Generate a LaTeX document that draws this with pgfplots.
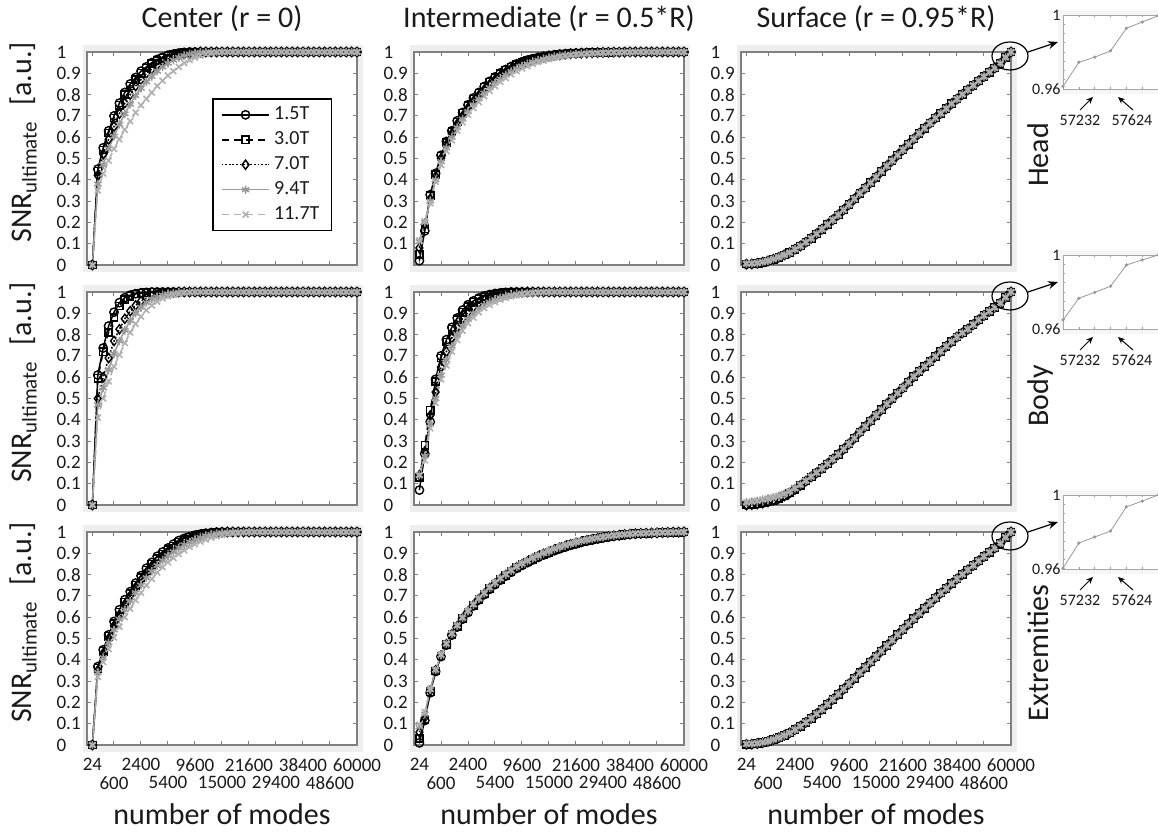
\documentclass[border=0pt]{standalone}
\usepackage{fontspec}
\setmainfont{Carlito}
\usepackage{pgfplots}
\pgfplotsset{compat=1.18}
\usepackage{pgfplotstable}
\usetikzlibrary{arrows.meta}
\definecolor{frame}{HTML}{EEEEEE}
\definecolor{g94}{HTML}{999999}
\definecolor{g117}{HTML}{B0B0B0}
\definecolor{axgray}{HTML}{808080}
\definecolor{txt}{HTML}{1A1A1A}

\pgfplotsset{
  panel/.style={
    scale only axis, width=135pt, height=106.5pt,
    xmin=0, xmax=50, ymin=0, ymax=1,
    xtick={1,5,10,15,20,25,30,35,40,45,50}, xticklabels={},
    ytick={0,0.1,0.2,0.3,0.4,0.5,0.6,0.7,0.8,0.9,1},
    tick align=inside, major tick length=2pt,
    tick style={axgray, line width=0.5pt},
    axis line style={axgray, line width=0.7pt},
    axis background/.style={fill=white},
    clip=false,
    /pgf/number format/fixed, /pgf/number format/precision=1,
    /pgf/number format/assume math mode=true,
    yticklabel style={font=\fontsize{9.5}{10}\selectfont, text=txt, text width=13pt,
      align=left, inner xsep=0pt, xshift=-2pt},
    xticklabel style={font=\fontsize{9.5}{10}\selectfont, text=txt, inner ysep=0pt, yshift=-6.5pt},
    every axis plot/.append style={line width=0.75pt},
  },
  bottomrow/.style={
    xtick={1,10,20,30,40,50}, xticklabels={24,2400,9600,21600,38400,60000},
    extra x ticks={5,15,25,35,45}, extra x tick labels={600,5400,15000,29400,48600},
    extra x tick style={xticklabel style={yshift=-9pt}},
  },
  s15/.style={black, solid, mark=o, mark size=2.1pt, mark options={solid, line width=0.7pt}},
  s30/.style={black, dash pattern=on 3.5pt off 2.5pt, mark=square, mark size=1.8pt, mark options={solid, line width=0.7pt}},
  s70/.style={black, dash pattern=on 0.9pt off 0.9pt, mark=diamond, mark size=2.3pt, mark options={solid, line width=0.7pt}},
  s94/.style={g94, solid, mark=asterisk, mark size=2.1pt, mark options={solid, line width=0.8pt}},
  s117/.style={g117, dash pattern=on 3.5pt off 2.5pt, mark=x, mark size=2.1pt, mark options={solid, line width=0.8pt}},
  inset/.style={
    scale only axis, width=51.5pt, height=37pt,
    xmin=0, xmax=6.5, ymin=0.96, ymax=1,
    xtick={0,1,2,3,4,5,6}, xticklabels={},
    ytick={0.96,0.965,0.97,0.975,0.98,0.985,0.99,0.995,1}, yticklabels={0.96,,,,,,,,1},
    tick align=inside, major tick length=1pt,
    tick style={black!40, line width=0.3pt},
    axis line style={black!35, line width=0.4pt},
    axis background/.style={fill=white},
    yticklabel style={font=\fontsize{8}{9}\selectfont, text=txt, inner xsep=1pt},
    clip=false,
  },
}

\newcommand\five[1]{%
  \addplot[s15] table[x=n,y=a]{#1};
  \addplot[s30] table[x=n,y=b]{#1};
  \addplot[s70] table[x=n,y=c]{#1};
  \addplot[s94] table[x=n,y=d]{#1};
  \addplot[s117] table[x=n,y=e]{#1};
}
\newcommand\fivesurf[1]{%
  \addplot[s15] table[x=n,y=a]{#1};
  \addplot[s30] table[x=n,y=a]{#1};
  \addplot[s70] table[x=n,y=a]{#1};
  \addplot[s94] table[x=n,y=e]{#1};
  \addplot[s117] table[x=n,y=e]{#1};
}
\newcommand\bg[2]{\fill[frame] ({#1pt-2pt},{#2pt+3.5pt}) rectangle ({#1pt+138pt},{#2pt-110pt});}

% Center, head
\pgfplotstableread{
n a b c d e
1 0 0 0 0 0
2 0.45 0.44 0.42 0.38 0.35
3 0.55 0.54 0.52 0.47 0.43
4 0.63 0.62 0.59 0.545 0.49
5 0.70 0.69 0.65 0.605 0.545
6 0.76 0.75 0.71 0.66 0.59
7 0.81 0.80 0.76 0.71 0.635
8 0.85 0.84 0.80 0.755 0.675
9 0.88 0.87 0.84 0.795 0.715
10 0.91 0.90 0.87 0.83 0.75
11 0.93 0.925 0.90 0.86 0.78
12 0.95 0.945 0.92 0.885 0.81
13 0.965 0.96 0.94 0.91 0.84
14 0.975 0.97 0.955 0.93 0.865
15 0.985 0.98 0.967 0.947 0.89
16 0.99 0.988 0.977 0.962 0.91
17 0.995 0.993 0.985 0.974 0.93
18 0.998 0.997 0.99 0.983 0.948
19 1 1 0.994 0.99 0.962
20 1 1 0.997 0.995 0.974
21 1 1 1 0.998 0.983
22 1 1 1 1 0.99
23 1 1 1 1 0.995
24 1 1 1 1 0.998
25 1 1 1 1 1
26 1 1 1 1 1
27 1 1 1 1 1
28 1 1 1 1 1
29 1 1 1 1 1
30 1 1 1 1 1
31 1 1 1 1 1
32 1 1 1 1 1
33 1 1 1 1 1
34 1 1 1 1 1
35 1 1 1 1 1
36 1 1 1 1 1
37 1 1 1 1 1
38 1 1 1 1 1
39 1 1 1 1 1
40 1 1 1 1 1
41 1 1 1 1 1
42 1 1 1 1 1
43 1 1 1 1 1
44 1 1 1 1 1
45 1 1 1 1 1
46 1 1 1 1 1
47 1 1 1 1 1
48 1 1 1 1 1
49 1 1 1 1 1
50 1 1 1 1 1
}\tCH

% Center, body
\pgfplotstableread{
n a b c d e
1 0 0 0 0 0
2 0.61 0.595 0.50 0.47 0.41
3 0.737 0.72 0.60 0.55 0.50
4 0.84 0.81 0.69 0.635 0.58
5 0.905 0.88 0.77 0.71 0.65
6 0.95 0.935 0.825 0.77 0.705
7 0.973 0.965 0.874 0.82 0.76
8 0.985 0.98 0.91 0.865 0.81
9 0.992 0.99 0.937 0.90 0.85
10 0.996 0.995 0.957 0.928 0.885
11 0.998 0.997 0.971 0.95 0.915
12 1 1 0.981 0.966 0.937
13 1 1 0.988 0.977 0.955
14 1 1 0.993 0.985 0.97
15 1 1 0.996 0.991 0.98
16 1 1 0.998 0.995 0.987
17 1 1 1 0.998 0.992
18 1 1 1 1 0.996
19 1 1 1 1 0.998
20 1 1 1 1 1
21 1 1 1 1 1
22 1 1 1 1 1
23 1 1 1 1 1
24 1 1 1 1 1
25 1 1 1 1 1
26 1 1 1 1 1
27 1 1 1 1 1
28 1 1 1 1 1
29 1 1 1 1 1
30 1 1 1 1 1
31 1 1 1 1 1
32 1 1 1 1 1
33 1 1 1 1 1
34 1 1 1 1 1
35 1 1 1 1 1
36 1 1 1 1 1
37 1 1 1 1 1
38 1 1 1 1 1
39 1 1 1 1 1
40 1 1 1 1 1
41 1 1 1 1 1
42 1 1 1 1 1
43 1 1 1 1 1
44 1 1 1 1 1
45 1 1 1 1 1
46 1 1 1 1 1
47 1 1 1 1 1
48 1 1 1 1 1
49 1 1 1 1 1
50 1 1 1 1 1
}\tCB

% Center, extremities
\pgfplotstableread{
n a b c d e
1 0 0 0 0 0
2 0.368 0.36 0.35 0.34 0.32
3 0.447 0.44 0.43 0.41 0.39
4 0.517 0.51 0.50 0.48 0.45
5 0.58 0.57 0.56 0.54 0.505
6 0.635 0.625 0.61 0.59 0.555
7 0.682 0.672 0.66 0.635 0.60
8 0.72 0.71 0.70 0.675 0.64
9 0.76 0.75 0.74 0.715 0.68
10 0.795 0.785 0.775 0.75 0.715
11 0.83 0.82 0.81 0.785 0.75
12 0.857 0.848 0.84 0.815 0.78
13 0.886 0.875 0.865 0.842 0.81
14 0.906 0.897 0.888 0.866 0.835
15 0.925 0.917 0.908 0.888 0.858
16 0.943 0.935 0.926 0.907 0.878
17 0.96 0.952 0.943 0.925 0.897
18 0.97 0.965 0.957 0.94 0.914
19 0.978 0.975 0.968 0.953 0.93
20 0.985 0.983 0.977 0.964 0.943
21 0.99 0.989 0.984 0.974 0.955
22 0.994 0.993 0.99 0.982 0.965
23 0.997 0.996 0.994 0.988 0.974
24 0.999 0.998 0.997 0.993 0.981
25 1 1 0.999 0.996 0.987
26 1 1 1 0.998 0.991
27 1 1 1 1 0.994
28 1 1 1 1 0.996
29 1 1 1 1 0.998
30 1 1 1 1 1
31 1 1 1 1 1
32 1 1 1 1 1
33 1 1 1 1 1
34 1 1 1 1 1
35 1 1 1 1 1
36 1 1 1 1 1
37 1 1 1 1 1
38 1 1 1 1 1
39 1 1 1 1 1
40 1 1 1 1 1
41 1 1 1 1 1
42 1 1 1 1 1
43 1 1 1 1 1
44 1 1 1 1 1
45 1 1 1 1 1
46 1 1 1 1 1
47 1 1 1 1 1
48 1 1 1 1 1
49 1 1 1 1 1
50 1 1 1 1 1
}\tCE

% Intermediate, head
\pgfplotstableread{
n a b c d e
1 0.02 0.05 0.08 0.11 0.115
2 0.16 0.17 0.19 0.20 0.205
3 0.33 0.325 0.31 0.30 0.29
4 0.43 0.425 0.415 0.40 0.39
5 0.515 0.51 0.50 0.485 0.47
6 0.58 0.575 0.565 0.55 0.535
7 0.63 0.627 0.617 0.60 0.585
8 0.677 0.672 0.662 0.645 0.63
9 0.716 0.712 0.70 0.685 0.67
10 0.752 0.748 0.737 0.72 0.705
11 0.784 0.78 0.769 0.752 0.737
12 0.81 0.807 0.797 0.78 0.765
13 0.838 0.834 0.824 0.807 0.792
14 0.862 0.858 0.848 0.832 0.817
15 0.883 0.879 0.87 0.854 0.84
16 0.902 0.898 0.889 0.874 0.86
17 0.918 0.914 0.906 0.892 0.878
18 0.932 0.928 0.921 0.908 0.895
19 0.944 0.94 0.934 0.922 0.91
20 0.954 0.951 0.945 0.934 0.923
21 0.962 0.959 0.954 0.944 0.934
22 0.969 0.966 0.962 0.953 0.944
23 0.975 0.972 0.968 0.961 0.953
24 0.98 0.977 0.974 0.967 0.96
25 0.984 0.981 0.979 0.973 0.967
26 0.987 0.985 0.983 0.978 0.973
27 0.99 0.988 0.986 0.982 0.978
28 0.992 0.99 0.989 0.985 0.982
29 0.994 0.992 0.991 0.988 0.985
30 0.995 0.994 0.993 0.99 0.988
31 0.996 0.995 0.994 0.992 0.99
32 0.997 0.996 0.995 0.994 0.992
33 0.997 0.997 0.996 0.995 0.994
34 0.998 0.997 0.997 0.996 0.995
35 0.998 0.998 0.998 0.997 0.996
36 0.999 0.998 0.998 0.998 0.997
37 0.999 0.999 0.999 0.998 0.998
38 0.999 0.999 0.999 0.999 0.998
39 1 0.999 0.999 0.999 0.999
40 1 1 1 0.999 0.999
41 1 1 1 1 1
42 1 1 1 1 1
43 1 1 1 1 1
44 1 1 1 1 1
45 1 1 1 1 1
46 1 1 1 1 1
47 1 1 1 1 1
48 1 1 1 1 1
49 1 1 1 1 1
50 1 1 1 1 1
}\tIH

% Intermediate, body
\pgfplotstableread{
n a b c d e
1 0.07 0.13 0.14 0.14 0.14
2 0.24 0.28 0.25 0.23 0.21
3 0.39 0.445 0.42 0.38 0.36
4 0.59 0.58 0.53 0.50 0.48
5 0.70 0.69 0.647 0.61 0.59
6 0.776 0.765 0.72 0.68 0.655
7 0.834 0.825 0.784 0.745 0.72
8 0.878 0.87 0.835 0.80 0.775
9 0.915 0.905 0.875 0.84 0.818
10 0.94 0.932 0.905 0.872 0.853
11 0.958 0.952 0.93 0.898 0.88
12 0.972 0.966 0.95 0.92 0.905
13 0.982 0.977 0.964 0.938 0.925
14 0.988 0.985 0.975 0.952 0.94
15 0.993 0.99 0.983 0.964 0.953
16 0.996 0.994 0.989 0.973 0.964
17 0.998 0.997 0.993 0.98 0.973
18 1 0.999 0.996 0.986 0.98
19 1 1 0.998 0.99 0.986
20 1 1 0.999 0.993 0.99
21 1 1 1 0.995 0.993
22 1 1 1 0.997 0.996
23 1 1 1 0.998 0.998
24 1 1 1 0.999 0.999
25 1 1 1 1 1
26 1 1 1 1 1
27 1 1 1 1 1
28 1 1 1 1 1
29 1 1 1 1 1
30 1 1 1 1 1
31 1 1 1 1 1
32 1 1 1 1 1
33 1 1 1 1 1
34 1 1 1 1 1
35 1 1 1 1 1
36 1 1 1 1 1
37 1 1 1 1 1
38 1 1 1 1 1
39 1 1 1 1 1
40 1 1 1 1 1
41 1 1 1 1 1
42 1 1 1 1 1
43 1 1 1 1 1
44 1 1 1 1 1
45 1 1 1 1 1
46 1 1 1 1 1
47 1 1 1 1 1
48 1 1 1 1 1
49 1 1 1 1 1
50 1 1 1 1 1
}\tIB

% Intermediate, extremities
\pgfplotstableread{
n a b c d e
1 0.01 0.03 0.06 0.085 0.095
2 0.115 0.12 0.13 0.145 0.155
3 0.245 0.25 0.255 0.26 0.265
4 0.345 0.347 0.35 0.352 0.355
5 0.415 0.418 0.42 0.422 0.425
6 0.469 0.471 0.473 0.475 0.477
7 0.516 0.518 0.52 0.522 0.524
8 0.554 0.556 0.558 0.56 0.562
9 0.591 0.593 0.595 0.597 0.599
10 0.622 0.624 0.626 0.628 0.63
11 0.653 0.655 0.657 0.659 0.661
12 0.681 0.683 0.685 0.687 0.689
13 0.706 0.708 0.71 0.712 0.714
14 0.731 0.734 0.736 0.738 0.741
15 0.753 0.756 0.758 0.76 0.763
16 0.774 0.777 0.779 0.781 0.784
17 0.793 0.796 0.798 0.8 0.803
18 0.811 0.814 0.816 0.818 0.821
19 0.829 0.832 0.834 0.836 0.839
20 0.843 0.846 0.848 0.85 0.853
21 0.856 0.859 0.861 0.863 0.866
22 0.869 0.872 0.874 0.876 0.879
23 0.881 0.884 0.886 0.888 0.891
24 0.892 0.895 0.897 0.899 0.902
25 0.902 0.905 0.907 0.909 0.912
26 0.912 0.915 0.917 0.919 0.922
27 0.921 0.924 0.926 0.928 0.931
28 0.929 0.932 0.934 0.936 0.939
29 0.937 0.94 0.942 0.944 0.946
30 0.944 0.947 0.949 0.951 0.953
31 0.951 0.953 0.955 0.957 0.959
32 0.957 0.959 0.961 0.963 0.964
33 0.962 0.964 0.966 0.968 0.969
34 0.967 0.969 0.971 0.972 0.973
35 0.972 0.974 0.975 0.976 0.977
36 0.976 0.978 0.979 0.98 0.981
37 0.98 0.981 0.982 0.983 0.984
38 0.983 0.984 0.985 0.986 0.987
39 0.986 0.987 0.988 0.989 0.989
40 0.989 0.99 0.99 0.991 0.991
41 0.991 0.992 0.992 0.993 0.993
42 0.993 0.993 0.993 0.994 0.994
43 0.994 0.994 0.994 0.995 0.995
44 0.995 0.995 0.995 0.996 0.996
45 0.996 0.996 0.996 0.997 0.997
46 0.997 0.997 0.997 0.998 0.998
47 0.998 0.998 0.998 0.998 0.998
48 0.999 0.999 0.999 0.999 0.999
49 0.999 0.999 0.999 0.999 0.999
50 1 1 1 1 1
}\tIE

% Surface, head (a: 1.5/3.0/7.0 T, e: 9.4/11.7 T)
\pgfplotstableread{
n a e
1 0.004 0.006
2 0.005 0.007
3 0.008 0.009
4 0.013 0.014
5 0.019 0.02
6 0.027 0.028
7 0.036 0.037
8 0.047 0.047
9 0.058 0.058
10 0.074 0.074
11 0.089 0.089
12 0.107 0.107
13 0.125 0.125
14 0.146 0.146
15 0.168 0.168
16 0.19 0.19
17 0.212 0.212
18 0.235 0.235
19 0.259 0.259
20 0.284 0.284
21 0.31 0.31
22 0.336 0.336
23 0.361 0.361
24 0.387 0.387
25 0.412 0.412
26 0.439 0.439
27 0.465 0.465
28 0.49 0.49
29 0.516 0.516
30 0.541 0.541
31 0.567 0.567
32 0.592 0.592
33 0.618 0.618
34 0.642 0.642
35 0.666 0.666
36 0.69 0.69
37 0.712 0.712
38 0.734 0.734
39 0.757 0.757
40 0.779 0.779
41 0.801 0.801
42 0.822 0.822
43 0.843 0.843
44 0.864 0.864
45 0.885 0.885
46 0.905 0.905
47 0.925 0.925
48 0.946 0.946
49 0.975 0.975
50 1 1
}\tSH

% Surface, body
\pgfplotstableread{
n a e
1 0.0 0.012
2 0.002 0.016
3 0.005 0.02
4 0.009 0.025
5 0.015 0.03
6 0.022 0.036
7 0.031 0.043
8 0.042 0.052
9 0.056 0.064
10 0.073 0.079
11 0.092 0.096
12 0.112 0.114
13 0.132 0.133
14 0.151 0.152
15 0.172 0.172
16 0.193 0.193
17 0.215 0.215
18 0.237 0.237
19 0.262 0.262
20 0.287 0.287
21 0.314 0.314
22 0.342 0.342
23 0.368 0.368
24 0.395 0.395
25 0.421 0.421
26 0.447 0.447
27 0.474 0.474
28 0.5 0.5
29 0.525 0.525
30 0.55 0.55
31 0.577 0.577
32 0.603 0.603
33 0.627 0.627
34 0.65 0.65
35 0.673 0.673
36 0.697 0.697
37 0.721 0.721
38 0.745 0.745
39 0.767 0.767
40 0.789 0.789
41 0.808 0.808
42 0.826 0.826
43 0.847 0.847
44 0.869 0.869
45 0.89 0.89
46 0.909 0.909
47 0.928 0.928
48 0.947 0.947
49 0.975 0.975
50 1 1
}\tSB

% Surface, extremities
\pgfplotstableread{
n a e
1 0.003 0.005
2 0.004 0.006
3 0.007 0.008
4 0.011 0.012
5 0.017 0.018
6 0.025 0.026
7 0.034 0.035
8 0.045 0.045
9 0.057 0.057
10 0.072 0.072
11 0.088 0.088
12 0.106 0.106
13 0.125 0.125
14 0.146 0.146
15 0.168 0.168
16 0.191 0.191
17 0.214 0.214
18 0.238 0.238
19 0.262 0.262
20 0.287 0.287
21 0.313 0.313
22 0.339 0.339
23 0.364 0.364
24 0.39 0.39
25 0.415 0.415
26 0.441 0.441
27 0.467 0.467
28 0.492 0.492
29 0.518 0.518
30 0.543 0.543
31 0.568 0.568
32 0.593 0.593
33 0.618 0.618
34 0.642 0.642
35 0.666 0.666
36 0.69 0.69
37 0.713 0.713
38 0.735 0.735
39 0.758 0.758
40 0.78 0.78
41 0.801 0.801
42 0.822 0.822
43 0.843 0.843
44 0.864 0.864
45 0.885 0.885
46 0.905 0.905
47 0.925 0.925
48 0.946 0.946
49 0.975 0.975
50 1 1
}\tSE

% zoomed tails
\pgfplotstableread{
i v
0 0.9614
1 0.9744
2 0.9772
3 0.9806
4 0.9928
5 0.9962
6 0.9996
}\zH
\pgfplotstableread{
i v
0 0.9649
1 0.9766
2 0.9798
3 0.9831
4 0.9946
5 0.9973
6 1.0
}\zB
\pgfplotstableread{
i v
0 0.9604
1 0.974
2 0.9773
3 0.9805
4 0.9936
5 0.9967
6 1.0
}\zE

\begin{document}
\begin{tikzpicture}
\useasboundingbox (0,0) rectangle (579pt,417pt);
\clip (0,0) rectangle (579pt,417pt);

% grey frames behind the panels
\foreach \L in {43.5,207,370.5}{\foreach \T in {391,271,151}{\bg{\L}{\T}}}
\foreach \T in {409.5,289.5,169.5}{\fill[frame!55] (529pt,{\T pt+2.5pt}) rectangle (580pt,{\T pt-39.5pt});}

% ---- row 1: head
\begin{axis}[panel, at={(43.5pt,391pt)}, anchor=north west,
  legend entries={1.5T,3.0T,7.0T,9.4T,11.7T},
  legend cell align=left,
  legend image code/.code={\draw[mark repeat=2,mark phase=2] plot coordinates {(0cm,0cm) (0.42cm,0cm) (0.84cm,0cm)};},
  legend style={at={(0.463,0.784)}, anchor=north west, draw=black, line width=0.9pt,
    font=\fontsize{10}{11}\selectfont, text=txt, inner xsep=4pt, inner ysep=2pt, row sep=0.5pt}]
\five{\tCH}
\end{axis}
\begin{axis}[panel, at={(207pt,391pt)}, anchor=north west]
\five{\tIH}
\end{axis}
\begin{axis}[panel, at={(370.5pt,391pt)}, anchor=north west]
\fivesurf{\tSH}
\end{axis}

% ---- row 2: body
\begin{axis}[panel, at={(43.5pt,271pt)}, anchor=north west]
\five{\tCB}
\end{axis}
\begin{axis}[panel, at={(207pt,271pt)}, anchor=north west]
\five{\tIB}
\end{axis}
\begin{axis}[panel, at={(370.5pt,271pt)}, anchor=north west]
\fivesurf{\tSB}
\end{axis}

% ---- row 3: extremities
\begin{axis}[panel, bottomrow, at={(43.5pt,151pt)}, anchor=north west]
\five{\tCE}
\end{axis}
\begin{axis}[panel, bottomrow, at={(207pt,151pt)}, anchor=north west]
\five{\tIE}
\end{axis}
\begin{axis}[panel, bottomrow, at={(370.5pt,151pt)}, anchor=north west]
\fivesurf{\tSE}
\end{axis}

% ---- zoomed tails
\begin{axis}[inset, at={(531.5pt,409.5pt)}, anchor=north west]
\addplot[g94, line width=0.4pt, mark=*, mark size=0.6pt] table[x=i,y=v]{\zH};
\end{axis}
\begin{axis}[inset, at={(531.5pt,289.5pt)}, anchor=north west]
\addplot[g94, line width=0.4pt, mark=*, mark size=0.6pt] table[x=i,y=v]{\zB};
\end{axis}
\begin{axis}[inset, at={(531.5pt,169.5pt)}, anchor=north west]
\addplot[g94, line width=0.4pt, mark=*, mark size=0.6pt] table[x=i,y=v]{\zE};
\end{axis}

% ---- circles, arrows and labels of the tails
\foreach \k in {0,1,2}{
  \draw[black, line width=0.6pt] (505pt,{389pt-120pt*\k}) ellipse (9pt and 7pt);
  \draw[black, line width=0.6pt, -{Stealth[length=5pt,width=4pt]}] (514pt,{391pt-120pt*\k}) -- (529pt,{396pt-120pt*\k});
  \draw[black, line width=0.5pt, -{Stealth[length=3.5pt,width=3pt]}] (540pt,{362pt-120pt*\k}) -- (546.5pt,{368.5pt-120pt*\k});
  \draw[black, line width=0.5pt, -{Stealth[length=3.5pt,width=3pt]}] (566.5pt,{362pt-120pt*\k}) -- (559pt,{368.5pt-120pt*\k});
  \node[font=\fontsize{8}{9}\selectfont, text=txt] at (540pt,{357pt-120pt*\k}) {57232};
  \node[font=\fontsize{8}{9}\selectfont, text=txt] at (566pt,{357pt-120pt*\k}) {57624};
}

% ---- titles and labels
\begin{scope}[every node/.style={font=\fontsize{15}{17}\selectfont, text=txt}]
\node[anchor=base] at (111pt,403pt) {Center (r = 0)};
\node[anchor=base] at (274.5pt,403pt) {Intermediate (r = 0.5*R)};
\node[anchor=base] at (438pt,403pt) {Surface (r = 0.95*R)};
\node[anchor=base] at (111pt,4.5pt) {number of modes};
\node[anchor=base] at (274.5pt,4.5pt) {number of modes};
\node[anchor=base] at (438pt,4.5pt) {number of modes};
\foreach \y in {345.75,225.75,105.75}{
  \node[rotate=90, anchor=base] at (16pt,\y pt) {SNR\textsubscript{ultimate}\hspace{0.5em}[a.u.]};
}
\node[rotate=90, anchor=base] at (524pt,339.5pt) {Head};
\node[rotate=90, anchor=base] at (524pt,219pt) {Body};
\node[rotate=90, anchor=base] at (524pt,90.5pt) {Extremities};
\end{scope}
\end{tikzpicture}
\end{document}
